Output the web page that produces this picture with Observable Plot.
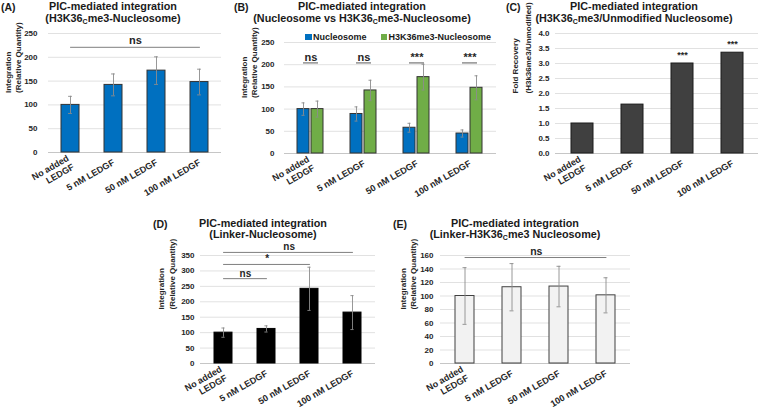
<!DOCTYPE html>
<html><head><meta charset="utf-8">
<script src="https://cdn.jsdelivr.net/npm/d3@7"></script>
<script src="https://cdn.jsdelivr.net/npm/@observablehq/plot@0.6"></script>
<style>
body{margin:0;background:#fff;}
#root{position:relative;width:760px;height:408px;overflow:hidden;background:#fff;font-family:"Liberation Sans",Arial,Helvetica,sans-serif;color:#1a1a1a;}
#root svg{position:absolute;overflow:visible;}
.title{position:absolute;width:300px;text-align:center;font-weight:bold;font-size:10.8px;line-height:11.5px;white-space:nowrap;}
.tag{position:absolute;font-weight:bold;font-size:10.5px;line-height:12px;white-space:nowrap;}
.title sub{font-size:65%;line-height:0;vertical-align:-0.3em;}
.legend{position:absolute;display:flex;align-items:center;font-weight:bold;font-size:9px;white-space:nowrap;}
.legend i{display:inline-block;width:6.5px;height:6.5px;margin-right:1.5px;}
.legend span{margin-right:14px;display:flex;align-items:center;}
</style></head><body><div id="root"></div>
<script>
// ---------- data ----------
const conc = ["No added\nLEDGF", "5 nM LEDGF", "50 nM LEDGF", "100 nM LEDGF"];
const series = ["Nucleosome", "H3K36me3-Nucleosome"];
const seriesColors = ["#0070C0", "#70AD47"];

const h3k36Vals = [100, 142, 172, 148];
const h3k36Err  = [18, 23, 29, 27];
const nucVals   = [100, 89, 58, 45];
const nucErr    = [14, 16, 10, 8];
const foldVals  = [1.0, 1.63, 3.0, 3.36];
const foldStars = ["", "", "***", "***"];
const linkerVals   = [100, 112, 242, 165];
const linkerErr    = [15, 10, 70, 55];
const linkerMeVals = [100, 113, 114, 101];
const linkerMeErr  = [42, 35, 30, 26];

const sigA = [{from: 0, to: 3, y: 221, label: "ns"}];
const sigB = ["ns", "ns", "***", "***"];
const sigBLevel = 204;
const sigD = [
  {from: 0, to: 3, y: 360, label: "ns"},
  {from: 0, to: 2, y: 321, label: "*"},
  {from: 0, to: 1, y: 275, label: "ns"}
];
const sigE = [{from: 0, to: 3, y: 157, label: "ns"}];

const ticksInt250 = [0, 50, 100, 150, 200, 250];
const ticksFold   = [0, 0.5, 1, 1.5, 2, 2.5, 3, 3.5, 4];
const ticksD      = [0, 50, 100, 150, 200, 250, 300, 350];
const ticksE      = [0, 20, 40, 60, 80, 100, 120, 140, 160];

const yLabelInt  = "Integration\n(Relative Quantity)";
const yLabelFold = "Fold Recovery\n(H3k36me3/Unmodified)";

const titles = {
  A: "PIC-mediated integration<br>(H3K36<sub>C</sub>me3-Nucleosome)",
  B: "PIC-mediated integration<br>(Nucleosome vs H3K36<sub>C</sub>me3-Nucleosome)",
  C: "PIC-mediated integration<br>(H3K36<sub>C</sub>me3/Unmodified Nucleosome)",
  D: "PIC-mediated integration<br>(Linker-Nucleosome)",
  E: "PIC-mediated integration<br>(Linker-H3K36<sub>C</sub>me3 Nucleosome)"
};

// ---------- helpers ----------
const FONT = '"Liberation Sans", Arial, Helvetica, sans-serif';
const root = document.getElementById("root");
const baseStyle = {fontFamily: FONT, fontWeight: "bold", fontSize: "8px", color: "#262626", background: "transparent", overflow: "visible"};
const ERR = "#8c8c8c";
const TICK_FS = 8;
const YLAB_FS = 8;

function placeSvg(svg, left, top) {
  svg.style.left = left + "px";
  svg.style.top = top + "px";
  root.appendChild(svg);
}
function addTitle(html, cx, cy, lh) {
  const d = document.createElement("div");
  d.className = "title"; d.innerHTML = html;
  if (lh) d.style.lineHeight = lh + "px";
  d.style.left = (cx - 150) + "px"; d.style.top = (cy - 6) + "px";
  root.appendChild(d);
}
function addTag(t, x, cy) {
  const d = document.createElement("div");
  d.className = "tag"; d.textContent = t;
  d.style.left = x + "px"; d.style.top = (cy - 6) + "px";
  root.appendChild(d);
}

function simplePanel(o) {
  const data = conc.map((c, i) => ({c, v: o.values[i], e: o.errors ? o.errors[i] : 0, star: o.stars ? o.stars[i] : ""}));
  const step = (o.width - o.ml - o.mr) / conc.length;
  const bw = step * (1 - o.padInner);
  const cap = Math.max(0, (bw - 4) / 2);
  const marks = [
    Plot.gridY({ticks: o.yTicks, stroke: "#d9d9d9", strokeOpacity: 1, strokeWidth: 0.8}),
    Plot.ruleY([0], {stroke: "#bfbfbf", strokeWidth: 0.8}),
    Plot.barY(data, {x: "c", y: "v", fill: o.fill, stroke: o.stroke, strokeWidth: 1})
  ];
  if (o.errors) {
    marks.push(Plot.ruleX(data, {x: "c", y1: d => d.v - d.e, y2: d => d.v + d.e, stroke: ERR, strokeWidth: 0.9}));
    marks.push(Plot.tickY(data, {x: "c", y: d => d.v + d.e, stroke: ERR, strokeWidth: 0.9, insetLeft: cap, insetRight: cap}));
    marks.push(Plot.tickY(data, {x: "c", y: d => d.v - d.e, stroke: ERR, strokeWidth: 0.9, insetLeft: cap, insetRight: cap}));
  }
  for (const s of (o.sig || [])) {
    marks.push(Plot.line([{c: conc[s.from], y: s.y}, {c: conc[s.to], y: s.y}], {x: "c", y: "y", stroke: "#7f7f7f", strokeWidth: 1}));
    marks.push(Plot.text([s], {x: d => conc[d.from], y: "y", text: "label", dx: (s.to - s.from) * step / 2, dy: o.sigDy ?? -3, lineAnchor: "bottom", fontSize: o.sigFs ?? 11, fill: "#262626"}));
  }
  if (o.stars) {
    marks.push(Plot.text(data.filter(d => d.star), {x: "c", y: "v", text: "star", dy: -6, lineAnchor: "bottom", fontSize: 9, fill: "#262626"}));
  }
  marks.push(
    Plot.axisY({ticks: o.yTicks, tickSize: 0, tickPadding: o.tickPad, tickFormat: o.yFormat, fontSize: TICK_FS, label: null}),
    Plot.axisX({tickSize: 0, tickPadding: 9, tickRotate: -30, fontSize: 9, lineHeight: 1.15, label: null}),
    Plot.text([o.ylabel], {frameAnchor: "left", dx: o.labelDx, rotate: -90, fontSize: YLAB_FS, lineHeight: o.labelLH, text: d => d, fill: "#262626"})
  );
  const svg = Plot.plot({
    width: o.width, height: o.height,
    marginLeft: o.ml, marginRight: o.mr, marginTop: o.mt, marginBottom: o.mb,
    style: baseStyle,
    x: {domain: conc, paddingInner: o.padInner, paddingOuter: o.padInner / 2, label: null},
    y: {domain: o.yDomain, label: null},
    marks
  });
  placeSvg(svg, o.left, o.top);
}

function groupedPanel(o) {
  const data = conc.flatMap((c, i) => [
    {c, s: series[0], v: nucVals[i], e: nucErr[i]},
    {c, s: series[1], v: h3k36Vals[i], e: h3k36Err[i]}
  ]);
  const sig = conc.map((c, i) => ({c, label: sigB[i], y: sigBLevel}));
  const svg = Plot.plot({
    width: o.width, height: o.height,
    marginLeft: o.ml, marginRight: o.mr, marginTop: o.mt, marginBottom: o.mb,
    style: baseStyle,
    fx: {domain: conc, padding: 0, label: null},
    x: {domain: series, paddingInner: 0.13, paddingOuter: 0.85, axis: null, label: null},
    y: {domain: [0, 250], label: null},
    color: {domain: series, range: seriesColors},
    marks: [
      Plot.gridY({ticks: ticksInt250, stroke: "#d9d9d9", strokeOpacity: 1, strokeWidth: 0.8}),
      Plot.ruleY([0], {stroke: "#bfbfbf", strokeWidth: 0.8}),
      Plot.barY(data, {fx: "c", x: "s", y: "v", fill: "s", stroke: "#333", strokeWidth: 1}),
      Plot.ruleX(data, {fx: "c", x: "s", y1: d => d.v - d.e, y2: d => d.v + d.e, stroke: ERR, strokeWidth: 0.9}),
      Plot.tickY(data, {fx: "c", x: "s", y: d => d.v + d.e, stroke: ERR, strokeWidth: 0.9, insetLeft: 4.5, insetRight: 4.5}),
      Plot.tickY(data, {fx: "c", x: "s", y: d => d.v - d.e, stroke: ERR, strokeWidth: 0.9, insetLeft: 4.5, insetRight: 4.5}),
      Plot.tickY(sig, {fx: "c", y: "y", insetLeft: 19, insetRight: 19, stroke: "#595959", strokeWidth: 1}),
      Plot.text(sig, {fx: "c", y: "y", text: "label", dy: -1.5, lineAnchor: "bottom", fontSize: 11, fill: "#262626"}),
      Plot.axisY({ticks: ticksInt250, tickSize: 0, tickPadding: 10, fontSize: TICK_FS, label: null}),
      Plot.axisFx({anchor: "bottom", tickSize: 0, tickPadding: 9, tickRotate: -30, fontSize: 9, lineHeight: 1.15, label: null}),
      Plot.text([yLabelInt], {frameAnchor: "left", dx: -36, rotate: -90, fontSize: YLAB_FS, lineHeight: 1.3, text: d => d, fill: "#262626", facetAnchor: "left"})
    ]
  });
  placeSvg(svg, o.left, o.top);
  // legend
  const leg = document.createElement("div");
  leg.className = "legend";
  leg.style.left = o.legendX + "px"; leg.style.top = (o.legendY - 6) + "px";
  series.forEach((s, i) => {
    const sp = document.createElement("span");
    const sw = document.createElement("i");
    sw.style.background = seriesColors[i];
    sp.appendChild(sw);
    sp.appendChild(document.createTextNode(s));
    leg.appendChild(sp);
  });
  root.appendChild(leg);
}

// ---------- panels ----------
simplePanel({left: 0, top: 25, width: 235, height: 185, ml: 48, mr: 14, mt: 8, mb: 58,
  values: h3k36Vals, errors: h3k36Err, fill: "#0070C0", stroke: "#333", yTicks: ticksInt250, yDomain: [0, 250],
  padInner: 0.58, tickPad: 11, ylabel: yLabelInt, labelDx: -36, labelLH: 1.3, sig: sigA});

groupedPanel({left: 235, top: 25, width: 265, height: 185, ml: 47, mr: 3, mt: 17, mb: 57, legendX: 305, legendY: 38});

simplePanel({left: 505, top: 25, width: 255, height: 185, ml: 50, mr: 2, mt: 8, mb: 57,
  values: foldVals, fill: "#404040", stroke: "#1a1a1a", yTicks: ticksFold, yDomain: [0, 4], yFormat: d3.format(".1f"),
  padInner: 0.57, tickPad: 6, ylabel: yLabelFold, labelDx: -35, labelLH: 1.55, stars: foldStars});

simplePanel({left: 150, top: 245, width: 230, height: 163, ml: 50, mr: 5, mt: 10, mb: 45,
  values: linkerVals, errors: linkerErr, fill: "#000000", stroke: "#000000", yTicks: ticksD, yDomain: [0, 350],
  padInner: 0.57, tickPad: 6, ylabel: yLabelInt, labelDx: -34.5, labelLH: 1.3, sig: sigD, sigFs: 10, sigDy: -2});

simplePanel({left: 390, top: 245, width: 245, height: 163, ml: 50, mr: 5, mt: 10, mb: 45,
  values: linkerMeVals, errors: linkerMeErr, fill: "#f2f2f2", stroke: "#404040", yTicks: ticksE, yDomain: [0, 160],
  padInner: 0.6, tickPad: 7, ylabel: yLabelInt, labelDx: -33, labelLH: 1.3, sig: sigE, sigFs: 10.5, sigDy: -2.5});

// ---------- titles ----------
addTag("(A)", 1, 7);   addTitle(titles.A, 113, 7);
addTag("(B)", 234, 7); addTitle(titles.B, 362, 7);
addTag("(C)", 506, 7); addTitle(titles.C, 634, 7);
addTag("(D)", 153, 224); addTitle(titles.D, 263, 224, 11);
addTag("(E)", 393, 224); addTitle(titles.E, 515, 224, 11);
</script></body></html>
